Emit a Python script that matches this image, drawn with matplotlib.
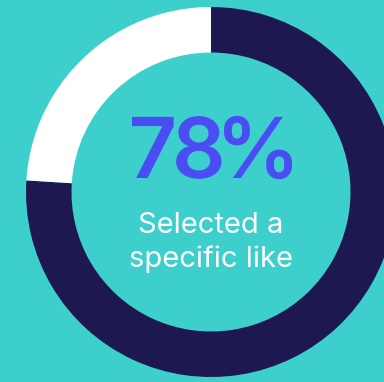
import matplotlib
matplotlib.use("Agg")
import matplotlib.pyplot as plt
from matplotlib.textpath import TextPath
from matplotlib.patches import PathPatch
from matplotlib.font_manager import FontProperties
from matplotlib.transforms import Affine2D

# data
labels = ["Selected a specific like", "Other"]
values = [76, 24]
center_label = "78%"
caption_lines = ["Selected a", "specific like"]

W, H = 384, 382
bg = "#3CCFCB"
navy = "#1E1850"
white = "#FFFFFF"
blue = "#4A4DF3"

fig = plt.figure(figsize=(W / 100, H / 100), dpi=100, facecolor=bg)
ax = fig.add_axes([0, 0, 1, 1])
ax.set_facecolor(bg)
ax.axis("off")

cx, cy = 211, H - 192
R = 185
ring = 45.5
ax.pie(values, colors=[navy, white], startangle=90, counterclock=False,
       radius=R, center=(cx, cy),
       wedgeprops=dict(width=ring, linewidth=0, antialiased=True))
ax.set_xlim(0, W)
ax.set_ylim(0, H)
ax.set_aspect("equal")

# big percentage label, glyph by glyph with tight tracking
fp = FontProperties(family="Inter", weight="semibold")
size_px = 84
glyphs = [TextPath((0, 0), ch, size=size_px, prop=fp) for ch in center_label]
exts = [g.get_extents() for g in glyphs]
ink_w = sum(e.width for e in exts)
target_w = 160
gap = (target_w - ink_w) / (len(glyphs) - 1)
x = cx + 1 - target_w / 2
baseline = H - 178
for g, e in zip(glyphs, exts):
    tr = Affine2D().translate(x - e.x0, baseline)
    ax.add_patch(PathPatch(tr.transform_path(g), facecolor=blue,
                           edgecolor="none", lw=0))
    x += e.width + gap

ax.text(cx, H - 233, caption_lines[0], ha="center", va="baseline",
        fontsize=21, family="Inter", color=white)
ax.text(cx, H - 267, caption_lines[1], ha="center", va="baseline",
        fontsize=21, family="Inter", color=white)

fig.savefig("out.png", dpi=100, facecolor=bg)
